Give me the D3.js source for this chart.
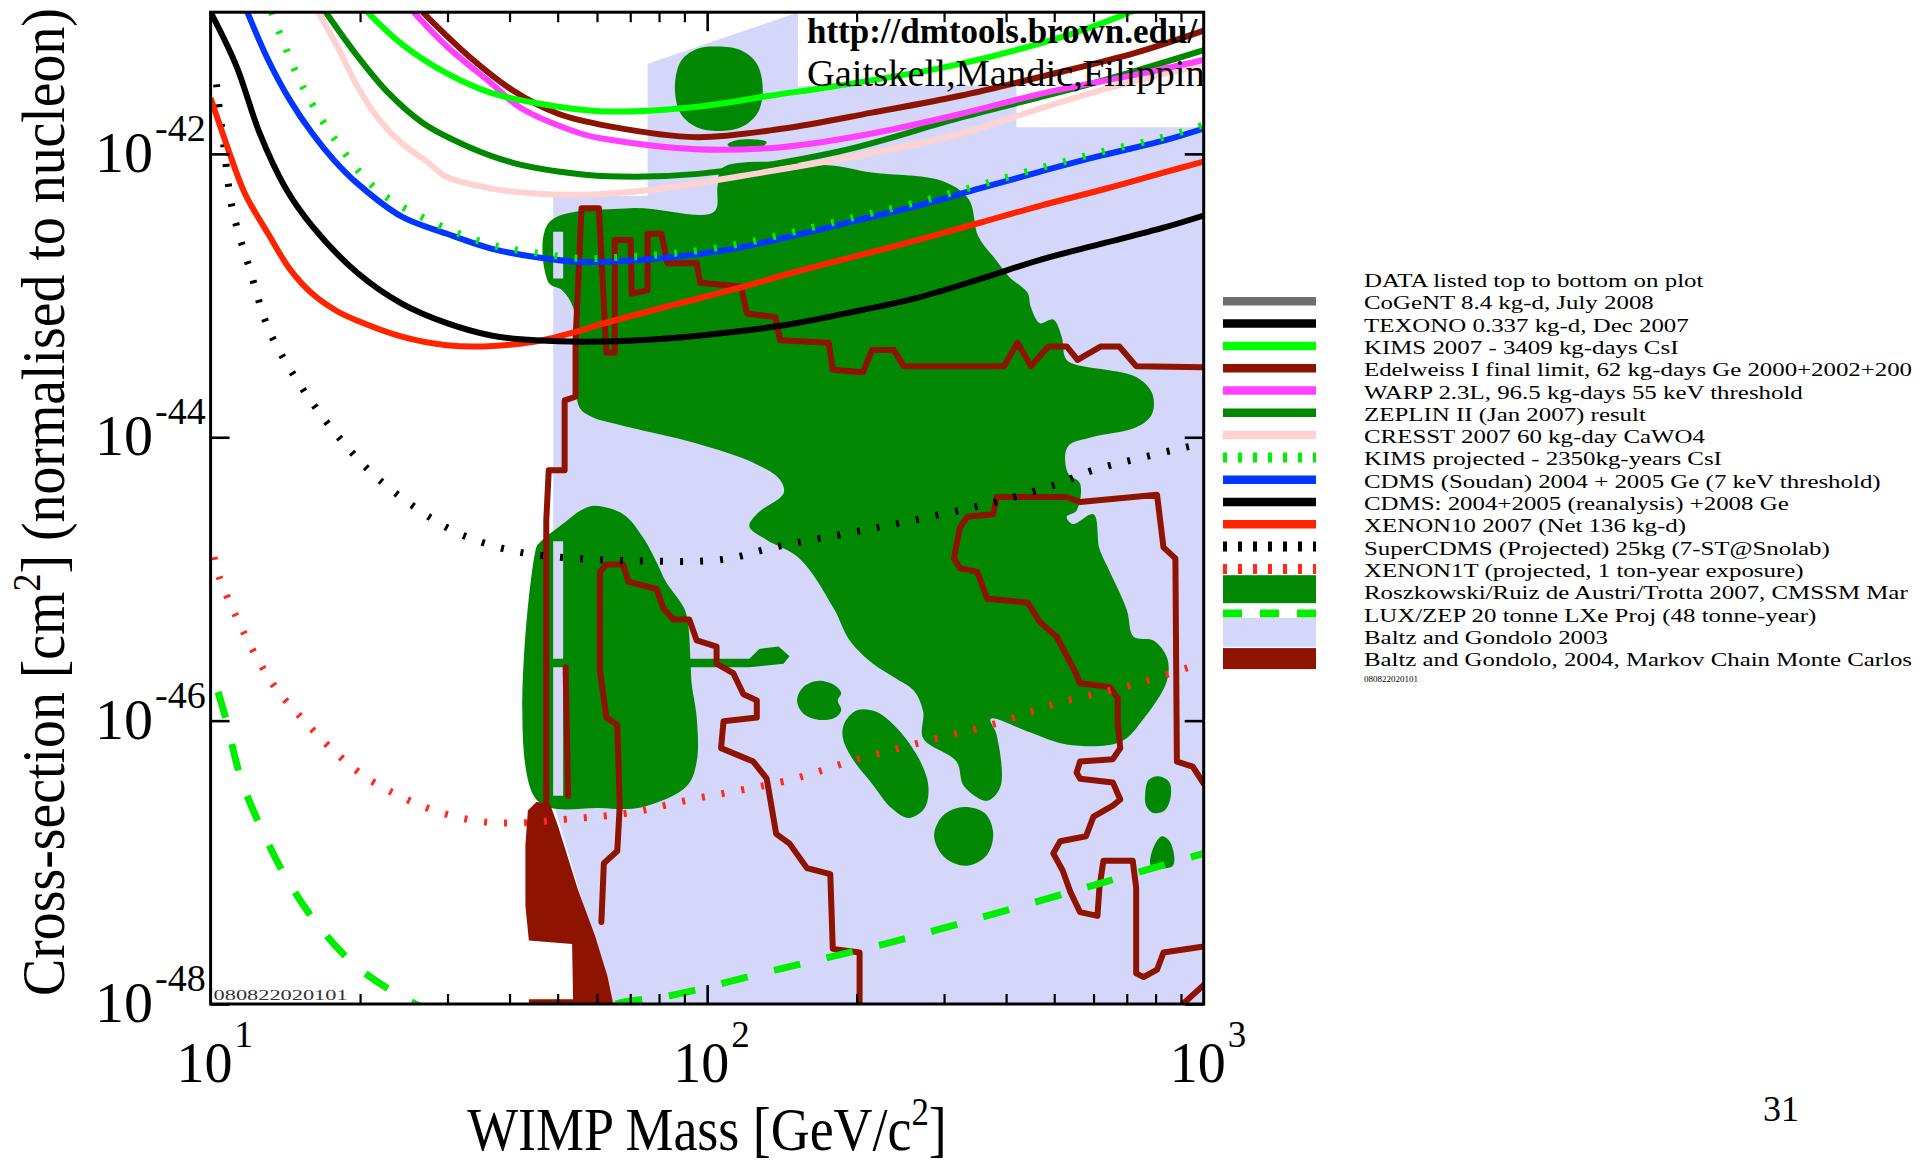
<!DOCTYPE html>
<html>
<head>
<meta charset="utf-8">
<script src="https://cdn.jsdelivr.net/npm/d3@7"></script>
<style>
  html, body { margin: 0; padding: 0; background: #ffffff; }
  svg { display: block; }
  text { font-family: "Liberation Serif", "Times New Roman", serif; }
</style>
</head>
<body>
<svg id="chart" width="1920" height="1164"></svg>
<script>
// Every curve and region is a list of [log10(mass / GeV), log10(sigma / cm^2)] pairs.

// ---- exclusion limits ----
const kims2007 = [[1.316,-41.00],[1.385,-41.225],[1.476,-41.432],[1.565,-41.570],[1.654,-41.640],[1.789,-41.700],[1.986,-41.665],[2.129,-41.588],[2.263,-41.519],[2.501,-41.372],[2.739,-41.147],[2.882,-40.957]];
const edelweiss = [[1.427,-41.00],[1.520,-41.311],[1.609,-41.553],[1.700,-41.717],[1.801,-41.804],[1.979,-41.882],[2.154,-41.821],[2.332,-41.709],[2.512,-41.588],[2.689,-41.441],[2.864,-41.285],[3.000,-41.130]];
const warp = [[1.409,-41.00],[1.476,-41.242],[1.565,-41.501],[1.624,-41.674],[1.745,-41.856],[1.801,-41.899],[1.979,-41.968],[2.154,-41.951],[2.332,-41.856],[2.512,-41.717],[2.689,-41.562],[2.864,-41.441],[3.000,-41.337]];
const zeplin2 = [[1.232,-41.00],[1.296,-41.311],[1.358,-41.570],[1.429,-41.786],[1.520,-41.951],[1.609,-42.063],[1.700,-42.124],[1.801,-42.158],[1.982,-42.141],[2.263,-41.985],[2.512,-41.743],[2.778,-41.501],[3.000,-41.268]];
const cresst = [[1.217,-41.00],[1.259,-41.268],[1.296,-41.527],[1.340,-41.761],[1.385,-41.925],[1.439,-42.063],[1.473,-42.158],[1.565,-42.244],[1.654,-42.279],[1.745,-42.288],[1.888,-42.253],[2.110,-42.132],[2.332,-41.994],[2.512,-41.856],[2.697,-41.650],[2.869,-41.480],[3.000,-41.370]];
const kimsProjected = [[1.123,-41.00],[1.138,-41.138],[1.187,-41.536],[1.254,-41.916],[1.335,-42.253],[1.439,-42.469],[1.565,-42.642],[1.646,-42.694],[1.745,-42.737],[1.834,-42.728],[1.932,-42.703],[2.056,-42.642],[2.179,-42.547],[2.302,-42.443],[2.425,-42.340],[2.549,-42.219],[2.672,-42.098],[2.795,-41.985],[2.919,-41.882],[3.000,-41.795]];
const cdmsSoudan = [[1.074,-41.00],[1.116,-41.337],[1.160,-41.622],[1.205,-41.856],[1.249,-42.046],[1.296,-42.210],[1.385,-42.443],[1.476,-42.564],[1.565,-42.668],[1.654,-42.728],[1.745,-42.763],[1.834,-42.754],[1.932,-42.728],[2.056,-42.668],[2.179,-42.573],[2.302,-42.469],[2.425,-42.365],[2.549,-42.244],[2.672,-42.124],[2.795,-42.011],[2.919,-41.907],[3.000,-41.821]];
const cdms2008 = [[1.000,-41.00],[1.052,-41.380],[1.099,-41.856],[1.150,-42.236],[1.205,-42.512],[1.296,-42.841],[1.385,-43.057],[1.476,-43.195],[1.565,-43.282],[1.654,-43.316],[1.784,-43.325],[1.932,-43.299],[2.056,-43.256],[2.179,-43.195],[2.302,-43.109],[2.425,-43.014],[2.549,-42.884],[2.672,-42.746],[2.795,-42.634],[2.919,-42.521],[3.000,-42.435]];
const xenon10 = [[1.000,-41.605],[1.032,-41.933],[1.069,-42.279],[1.116,-42.564],[1.160,-42.815],[1.205,-42.988],[1.254,-43.109],[1.296,-43.178],[1.385,-43.290],[1.476,-43.351],[1.550,-43.359],[1.654,-43.325],[1.745,-43.247],[1.784,-43.204],[1.932,-43.066],[2.056,-42.953],[2.179,-42.832],[2.302,-42.720],[2.425,-42.607],[2.549,-42.486],[2.672,-42.365],[2.795,-42.253],[2.919,-42.132],[3.000,-42.054]];
const superCdms = [[1.012,-41.510],[1.027,-41.951],[1.044,-42.391],[1.079,-42.815],[1.118,-43.247],[1.178,-43.619],[1.254,-43.982],[1.340,-44.301],[1.476,-44.638],[1.555,-44.751],[1.636,-44.820],[1.735,-44.855],[1.858,-44.872],[2.031,-44.863],[2.134,-44.777],[2.342,-44.638],[2.581,-44.457],[2.707,-44.327],[2.778,-44.232],[3.000,-44.042]];
const xenon1t = [[1.007,-44.846],[1.017,-44.984],[1.052,-45.269],[1.089,-45.529],[1.133,-45.779],[1.187,-45.995],[1.247,-46.211],[1.313,-46.401],[1.385,-46.540],[1.466,-46.652],[1.547,-46.713],[1.629,-46.721],[1.718,-46.695],[1.841,-46.652],[1.967,-46.557],[2.166,-46.419],[2.295,-46.281],[2.453,-46.134],[2.581,-46.021],[2.699,-45.883],[2.859,-45.745],[3.000,-45.589]];
const luxZep = [[1.015,-45.797],[1.030,-45.978],[1.062,-46.419],[1.106,-46.790],[1.155,-47.127],[1.219,-47.456],[1.296,-47.741],[1.390,-47.957],[1.513,-48.156],[1.636,-48.216],[1.735,-48.130],[1.816,-48.000],[1.927,-47.940],[2.149,-47.750],[2.366,-47.568],[2.581,-47.361],[2.795,-47.145],[3.000,-46.937]];

// ---- Baltz & Gondolo 2003 region ----
const baltz2003 = [[1.690,-42.296],[1.880,-42.296],[1.880,-41.363],[2.184,-41.00],[2.623,-41.00],[2.623,-41.812],[3.000,-41.812],[3.000,-48.000],[1.809,-48.000],[1.690,-46.574]];

// ---- Roszkowski / Ruiz de Austri / Trotta 2007 regions ----
const rrtMain = [[1.681,-42.486],[1.846,-42.383],[2.014,-42.409],[2.021,-42.227],[2.031,-42.098],[2.243,-42.080],[2.332,-42.132],[2.475,-42.193],[2.527,-42.322],[2.546,-42.582],[2.581,-42.746],[2.608,-42.867],[2.645,-42.979],[2.652,-43.083],[2.670,-43.195],[2.697,-43.169],[2.714,-43.290],[2.724,-43.454],[2.768,-43.506],[2.803,-43.524],[2.864,-43.575],[2.896,-43.688],[2.896,-43.835],[2.864,-43.930],[2.776,-43.999],[2.726,-44.068],[2.726,-44.249],[2.751,-44.327],[2.744,-44.517],[2.724,-44.561],[2.736,-44.613],[2.778,-44.543],[2.790,-44.785],[2.805,-44.906],[2.845,-45.217],[2.859,-45.408],[2.899,-45.434],[2.926,-45.554],[2.926,-45.719],[2.879,-45.987],[2.832,-46.151],[2.724,-46.168],[2.650,-46.082],[2.571,-45.987],[2.583,-46.099],[2.591,-46.462],[2.564,-46.566],[2.517,-46.462],[2.502,-46.289],[2.435,-46.125],[2.435,-45.935],[2.416,-45.788],[2.376,-45.693],[2.334,-45.598],[2.287,-45.434],[2.255,-45.209],[2.186,-44.855],[2.120,-44.725],[2.085,-44.630],[2.102,-44.535],[2.154,-44.396],[2.147,-44.301],[2.093,-44.180],[1.977,-44.042],[1.843,-43.930],[1.765,-43.852],[1.742,-43.783],[1.737,-43.359],[1.730,-43.083],[1.708,-42.962],[1.681,-42.910]];
const rrtMainHole = [[1.690,-42.55],[1.710,-42.55],[1.710,-42.88],[1.690,-42.88]];
const rrtColumn = [[1.772,-44.483],[1.745,-44.517],[1.718,-44.587],[1.663,-44.742],[1.656,-44.777],[1.656,-46.557],[1.784,-46.617],[1.871,-46.609],[1.959,-46.462],[1.979,-46.289],[1.979,-45.978],[1.969,-45.745],[1.967,-45.624],[1.962,-45.330],[1.954,-45.209],[1.917,-45.019],[1.898,-44.880],[1.871,-44.708],[1.831,-44.543]];
const rrtColumnHole = [[1.690,-44.734],[1.710,-44.734],[1.710,-46.531],[1.690,-46.531]];
const rrtBar = [[1.646,-45.563],[2.085,-45.563],[2.105,-45.494],[2.144,-45.477],[2.166,-45.546],[2.154,-45.598],[2.085,-45.624],[1.646,-45.624]];
const rrtIslands = [
  [[1.935,-41.536],[1.947,-41.346],[1.979,-41.259],[2.023,-41.242],[2.068,-41.268],[2.100,-41.363],[2.112,-41.536],[2.102,-41.709],[2.068,-41.812],[2.023,-41.838],[1.979,-41.812],[1.947,-41.717]],
  [[2.041,-41.933],[2.068,-41.899],[2.120,-41.916],[2.105,-41.959],[2.051,-41.959]],
  [[2.181,-45.857],[2.194,-45.762],[2.226,-45.719],[2.258,-45.753],[2.270,-45.805],[2.263,-45.857],[2.270,-45.926],[2.258,-45.978],[2.226,-45.995],[2.194,-45.952]],
  [[2.277,-46.013],[2.302,-45.926],[2.339,-45.935],[2.376,-46.030],[2.420,-46.229],[2.445,-46.445],[2.438,-46.617],[2.406,-46.687],[2.371,-46.617],[2.332,-46.445],[2.290,-46.255],[2.273,-46.117]],
  [[2.457,-46.816],[2.475,-46.669],[2.517,-46.609],[2.559,-46.652],[2.576,-46.790],[2.564,-46.946],[2.524,-47.024],[2.480,-46.972]],
  [[2.882,-46.522],[2.889,-46.419],[2.909,-46.393],[2.931,-46.436],[2.933,-46.548],[2.921,-46.635],[2.899,-46.652],[2.884,-46.600]],
  [[2.894,-47.024],[2.899,-46.894],[2.916,-46.816],[2.933,-46.860],[2.938,-47.024]]
];

// ---- Baltz & Gondolo 2004 MCMC ----
const bg2004Fill = [[1.639,-46.635],[1.656,-46.574],[1.683,-46.583],[1.700,-46.747],[1.740,-47.196],[1.774,-47.516],[1.799,-47.801],[1.811,-48.000],[1.641,-48.000],[1.641,-47.966],[1.730,-47.966],[1.728,-47.577],[1.641,-47.551],[1.634,-47.309],[1.634,-46.877]];
const bg2004Contours = [
  [[1.676,-46.574],[1.676,-44.587],[1.681,-44.232],[1.713,-44.232],[1.713,-43.740],[1.735,-43.714],[1.735,-43.316],[1.747,-42.383],[1.782,-42.383],[1.797,-43.403],[1.814,-43.403],[1.814,-42.607],[1.846,-42.607],[1.848,-42.988],[1.880,-42.962],[1.880,-42.564],[1.908,-42.564],[1.920,-42.772],[1.979,-42.772],[1.986,-42.910],[2.068,-42.936],[2.080,-43.126],[2.137,-43.152],[2.147,-43.316],[2.245,-43.333],[2.253,-43.524],[2.314,-43.541],[2.332,-43.385],[2.376,-43.385],[2.396,-43.498],[2.598,-43.498],[2.625,-43.333],[2.652,-43.498],[2.687,-43.359],[2.724,-43.359],[2.746,-43.454],[2.793,-43.359],[2.830,-43.359],[2.864,-43.498],[3.000,-43.506]],
  [[2.307,-48.000],[2.307,-47.637],[2.253,-47.611],[2.248,-47.084],[2.201,-47.041],[2.166,-46.868],[2.139,-46.799],[2.120,-46.410],[2.093,-46.289],[2.028,-46.194],[2.033,-46.004],[2.100,-45.978],[2.100,-45.857],[2.073,-45.814],[2.053,-45.667],[2.019,-45.598],[2.019,-45.477],[1.979,-45.434],[1.964,-45.287],[1.932,-45.287],[1.912,-45.209],[1.898,-45.071],[1.841,-45.019],[1.831,-44.898],[1.797,-44.898],[1.784,-44.950],[1.784,-45.641],[1.797,-45.978],[1.819,-46.030],[1.824,-46.600],[1.819,-46.920],[1.792,-47.006],[1.787,-47.421]],
  [[3.000,-46.445],[2.978,-46.324],[2.946,-46.289],[2.943,-44.855],[2.919,-44.777],[2.906,-44.405],[2.751,-44.457],[2.724,-44.422],[2.583,-44.422],[2.576,-44.543],[2.524,-44.561],[2.509,-44.638],[2.497,-44.855],[2.509,-44.924],[2.544,-44.950],[2.564,-45.140],[2.645,-45.166],[2.670,-45.304],[2.704,-45.408],[2.739,-45.641],[2.751,-45.736],[2.810,-45.762],[2.827,-45.840],[2.827,-46.030],[2.832,-46.194],[2.817,-46.272],[2.751,-46.289],[2.744,-46.367],[2.751,-46.410],[2.817,-46.436],[2.832,-46.557],[2.817,-46.600],[2.778,-46.678],[2.763,-46.816],[2.711,-46.851],[2.697,-46.937],[2.716,-47.058],[2.731,-47.205],[2.751,-47.352],[2.786,-47.378],[2.790,-47.179],[2.798,-46.989],[2.857,-46.989],[2.864,-47.179],[2.864,-47.784],[2.879,-47.810],[2.906,-47.758],[2.919,-47.637],[3.000,-47.594]],
  [[2.958,-48.000],[3.007,-47.844]],
  [[1.715,-45.624],[1.720,-46.531]]
];

// ---- axes ----
const xMinorTicks = [20,30,40,50,60,70,80,90,200,300,400,500,600,700,800,900];
const xMajorTicks = [100];
const xLabelTicks = [10,100,1000];
const xLabelExponents = ["1","2","3"];
const yTicks = [1e-48,1e-46,1e-44,1e-42];
const yLabelExponents = ["-48","-46","-44","-42"];

// ---- legend (text as far as it runs before the page edge) ----
const legendLabels = [
  "DATA listed top to bottom on plot",
  "CoGeNT 8.4 kg-d, July 2008",
  "TEXONO 0.337 kg-d, Dec 2007",
  "KIMS 2007 - 3409 kg-days CsI",
  "Edelweiss I final limit, 62 kg-days Ge 2000+2002+200",
  "WARP 2.3L, 96.5 kg-days 55 keV threshold",
  "ZEPLIN II (Jan 2007) result",
  "CRESST 2007 60 kg-day CaWO4",
  "KIMS projected - 2350kg-years CsI",
  "CDMS (Soudan) 2004 + 2005 Ge (7 keV threshold)",
  "CDMS: 2004+2005 (reanalysis) +2008 Ge",
  "XENON10 2007 (Net 136 kg-d)",
  "SuperCDMS (Projected) 25kg (7-ST@Snolab)",
  "XENON1T (projected, 1 ton-year exposure)",
  "Roszkowski/Ruiz de Austri/Trotta 2007, CMSSM Mar",
  "LUX/ZEP 20 tonne LXe Proj (48 tonne-year)",
  "Baltz and Gondolo 2003",
  "Baltz and Gondolo, 2004, Markov Chain Monte Carlos"
];
const legendKeys = [null,"cogent","texono","kims2007","edelweiss","warp","zeplin2","cresst","kimsProjected","cdmsSoudan","cdms2008","xenon10","superCdms","xenon1t","rrt","luxZep","baltz2003","bg2004"];

// ---- styles ----
const style = {
  cogent:        {kind:"line", color:"#6e6e6e"},
  texono:        {kind:"line", color:"#000000"},
  kims2007:      {kind:"line", color:"#00ff00"},
  edelweiss:     {kind:"line", color:"#8c1300"},
  warp:          {kind:"line", color:"#ff40ff"},
  zeplin2:       {kind:"line", color:"#008800"},
  cresst:        {kind:"line", color:"#ffd2d2"},
  kimsProjected: {kind:"dots", color:"#00ee00"},
  cdmsSoudan:    {kind:"line", color:"#0036ff"},
  cdms2008:      {kind:"line", color:"#000000"},
  xenon10:       {kind:"line", color:"#ff2400"},
  superCdms:     {kind:"dots", color:"#000000"},
  xenon1t:       {kind:"dots", color:"#ff2a1a"},
  rrt:           {kind:"fill", color:"#038803"},
  luxZep:        {kind:"dash", color:"#00ee00"},
  baltz2003:     {kind:"fill", color:"#d5d7fa"},
  bg2004:        {kind:"fill", color:"#8e1300"}
};

const svg = d3.select("#chart");
svg.append("rect").attr("width", 1920).attr("height", 1164).attr("fill", "#ffffff");

const plot = {left: 210.6, right: 1203.7, top: 12.2, bottom: 1004};
const x = d3.scaleLog().domain([10, 1000]).range([plot.left, plot.right]);
const y = d3.scaleLog().domain([1e-48, 1e-41]).range([plot.bottom, plot.top]);
const px = d => x(Math.pow(10, d[0]));
const py = d => y(Math.pow(10, d[1]));

svg.append("defs").append("clipPath").attr("id", "plotClip")
  .append("rect").attr("x", plot.left).attr("y", plot.top)
  .attr("width", plot.right - plot.left).attr("height", plot.bottom - plot.top);

const g = svg.append("g").attr("clip-path", "url(#plotClip)");

const smooth = d3.line().x(px).y(py).curve(d3.curveCatmullRom.alpha(0.5));
const straight = d3.line().x(px).y(py);
const ringSmooth = d3.line().x(px).y(py).curve(d3.curveCatmullRomClosed.alpha(0.5));
const ring = d3.line().x(px).y(py).curve(d3.curveLinearClosed);

// theory regions
g.append("path").attr("d", ring(baltz2003)).attr("fill", style.baltz2003.color);

// white panel behind the credit text
const creditX0 = Math.pow(10, 2.203);
g.append("rect")
  .attr("x", x(creditX0) - 10).attr("y", plot.top)
  .attr("width", plot.right - x(creditX0) + 10)
  .attr("height", y(Math.pow(10, -41.52)) - plot.top)
  .attr("fill", "#ffffff");

g.append("path").attr("d", ringSmooth(rrtMain) + ring(rrtMainHole))
  .attr("fill", style.rrt.color).attr("fill-rule", "evenodd");
g.append("path").attr("d", ringSmooth(rrtColumn) + ring(rrtColumnHole))
  .attr("fill", style.rrt.color).attr("fill-rule", "evenodd");
g.append("path").attr("d", ring(rrtBar)).attr("fill", style.rrt.color);
g.selectAll("path.island").data(rrtIslands).enter().append("path")
  .attr("class", "island").attr("d", d => ringSmooth(d)).attr("fill", style.rrt.color);

g.append("path").attr("d", ring(bg2004Fill)).attr("fill", style.bg2004.color);
g.selectAll("path.bgc").data(bg2004Contours).enter().append("path")
  .attr("class", "bgc").attr("d", d => straight(d))
  .attr("fill", "none").attr("stroke", style.bg2004.color)
  .attr("stroke-width", 6).attr("stroke-linejoin", "round").attr("stroke-linecap", "round");

// limit curves, drawn from the bottom of the legend upwards
const curves = [
  {key: "luxZep", data: luxZep},
  {key: "xenon1t", data: xenon1t},
  {key: "superCdms", data: superCdms},
  {key: "xenon10", data: xenon10},
  {key: "cdms2008", data: cdms2008},
  {key: "cdmsSoudan", data: cdmsSoudan},
  {key: "kimsProjected", data: kimsProjected},
  {key: "cresst", data: cresst},
  {key: "zeplin2", data: zeplin2},
  {key: "warp", data: warp},
  {key: "edelweiss", data: edelweiss},
  {key: "kims2007", data: kims2007}
];
const strokeFor = {
  line: {w: 6, dash: null},
  dots: {w: 7, dash: "3,17"},
  dash: {w: 7, dash: "27,27"}
};
curves.forEach(c => {
  const s = style[c.key];
  const st = strokeFor[s.kind];
  g.append("path").attr("d", smooth(c.data))
    .attr("fill", "none").attr("stroke", s.color)
    .attr("stroke-width", st.w)
    .attr("stroke-dasharray", st.dash)
    .attr("stroke-linecap", "butt");
});

// credit text
const credit = g.append("g");
credit.append("text").attr("x", x(creditX0) - 1).attr("y", 43)
  .attr("font-size", 35).attr("font-weight", "bold").attr("fill", "#000")
  .text("http://dmtools.brown.edu/");
credit.append("text").attr("x", x(creditX0) - 1).attr("y", 86)
  .attr("font-size", 38.5).attr("fill", "#000").text("Gaitskell,Mandic,Filippini");

// id stamp at lower left of the plot
g.append("text").attr("x", plot.left + 3).attr("y", plot.bottom - 4)
  .attr("font-size", 15).attr("fill", "#333")
  .attr("textLength", 134).attr("lengthAdjust", "spacingAndGlyphs")
  .text("080822020101");

// frame
svg.append("rect").attr("x", plot.left).attr("y", plot.top)
  .attr("width", plot.right - plot.left).attr("height", plot.bottom - plot.top)
  .attr("fill", "none").attr("stroke", "#000").attr("stroke-width", 3);

function tickAxis(gen, tr, size, width) {
  const a = svg.append("g").attr("transform", tr).call(gen.tickSize(size).tickFormat(""));
  a.select(".domain").remove();
  a.selectAll("line").attr("stroke", "#000").attr("stroke-width", width);
}
tickAxis(d3.axisBottom(x).tickValues(xMinorTicks), `translate(0,${plot.bottom})`, -10, 2.2);
tickAxis(d3.axisBottom(x).tickValues(xMajorTicks), `translate(0,${plot.bottom})`, -19, 2.6);
tickAxis(d3.axisTop(x).tickValues(xMinorTicks), `translate(0,${plot.top})`, -10, 2.2);
tickAxis(d3.axisTop(x).tickValues(xMajorTicks), `translate(0,${plot.top})`, -19, 2.6);
tickAxis(d3.axisLeft(y).tickValues(yTicks), `translate(${plot.left},0)`, -19, 2.6);
tickAxis(d3.axisRight(y).tickValues(yTicks), `translate(${plot.right},0)`, -19, 2.6);

// tick labels
yTicks.forEach((v, i) => {
  svg.append("text").attr("font-size", 58).attr("fill", "#000")
    .attr("x", 153).attr("y", y(v) + 18).attr("text-anchor", "end").text("10");
  svg.append("text").attr("font-size", 38).attr("fill", "#000")
    .attr("x", 155).attr("y", y(v) - 13).text(yLabelExponents[i]);
});
xLabelTicks.forEach((v, i) => {
  svg.append("text").attr("font-size", 56).attr("fill", "#000")
    .attr("x", x(v) + 22).attr("y", 1082).attr("text-anchor", "end").text("10");
  svg.append("text").attr("font-size", 37).attr("fill", "#000")
    .attr("x", x(v) + 24).attr("y", 1047).text(xLabelExponents[i]);
});

// axis titles
const xt = svg.append("text").attr("transform", "translate(707,1150) scale(0.87,1)")
  .attr("text-anchor", "middle").attr("font-size", 62).attr("fill", "#000");
xt.append("tspan").text("WIMP Mass [GeV/c");
xt.append("tspan").attr("font-size", 40).attr("dy", -25).text("2");
xt.append("tspan").attr("dy", 25).text("]");

const yt = svg.append("text").attr("transform", "translate(64,502) rotate(-90) scale(0.9,1)")
  .attr("text-anchor", "middle").attr("font-size", 62).attr("fill", "#000");
yt.append("tspan").text("Cross-section [cm");
yt.append("tspan").attr("font-size", 40).attr("dy", -24).text("2");
yt.append("tspan").attr("dy", 24).text("] (normalised to nucleon)");

// legend: compact serif lines, widened to the slide's proportions
const legend = svg.append("g");
const lgX0 = 1223, lgX1 = 1316, lgText = 1364, lgBase = 287, lgStep = 22.3, lgRight = 1912;
const lgFont = 19.6, lgStretch = 1.27;
legendLabels.forEach((label, i) => {
  const b = lgBase + i * lgStep;
  const t = legend.append("text")
    .attr("transform", `translate(${lgText},${b}) scale(${lgStretch},1)`)
    .attr("font-size", lgFont).attr("fill", "#000").text(label);
  const room = (lgRight - lgText) / lgStretch;
  if (t.node().getComputedTextLength() > room) {
    t.attr("textLength", room).attr("lengthAdjust", "spacingAndGlyphs");
  }
  const key = legendKeys[i];
  if (!key) return;
  const s = style[key];
  if (s.kind === "fill") {
    const box = key === "rrt" ? [b - 24, 28] : key === "baltz2003" ? [b - 26, 29] : [b - 18, 21];
    legend.append("rect").attr("x", lgX0).attr("y", box[0])
      .attr("width", lgX1 - lgX0).attr("height", box[1]).attr("fill", s.color);
  } else {
    const spec = s.kind === "line" ? {w: 8.5, dash: null}
      : s.kind === "dots" ? {w: 10, dash: "4,11"} : {w: 8, dash: "19,18"};
    legend.append("line").attr("x1", lgX0).attr("x2", lgX1)
      .attr("y1", b - 8).attr("y2", b - 8)
      .attr("stroke", s.color).attr("stroke-width", spec.w)
      .attr("stroke-dasharray", spec.dash);
  }
});
legend.append("text").attr("x", lgText).attr("y", lgBase + 17 * lgStep + 16)
  .attr("font-size", 9).attr("fill", "#000").text("080822020101");

// slide number
svg.append("text").attr("x", 1763).attr("y", 1121)
  .attr("font-family", "'Liberation Sans', Arial, sans-serif")
  .attr("font-size", 36).attr("fill", "#000").text("31");
</script>
</body>
</html>
